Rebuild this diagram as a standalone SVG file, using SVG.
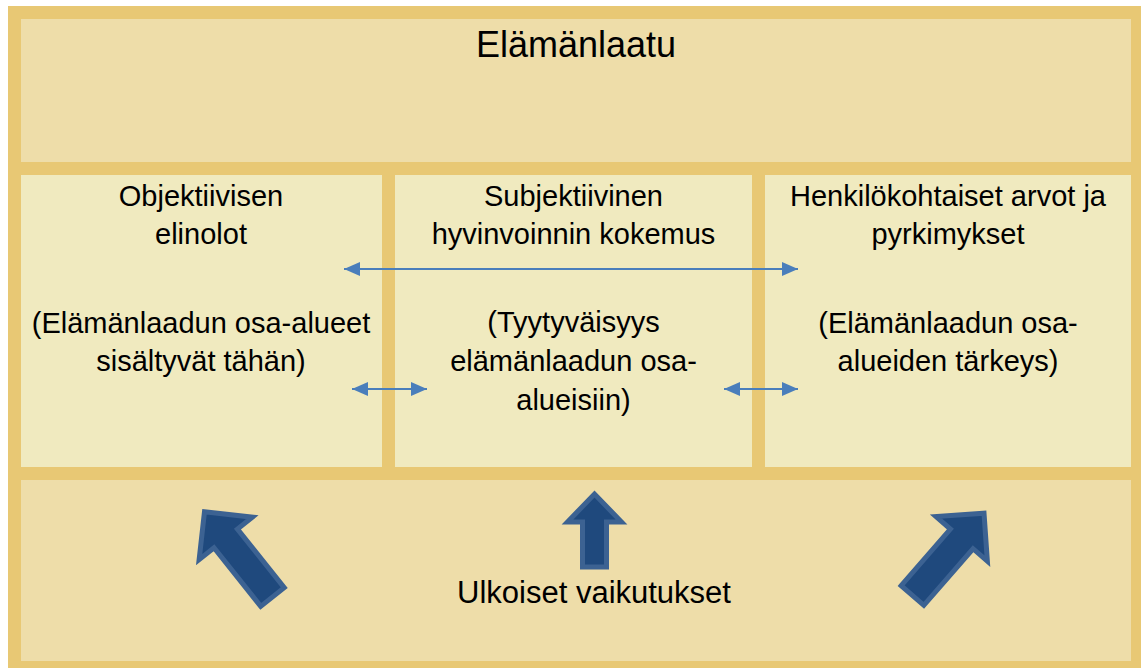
<svg xmlns="http://www.w3.org/2000/svg" width="1141" height="668" viewBox="0 0 1141 668">
  <defs>
    <style>
      .frame { fill: #E8C874; }
      .band { fill: #EEDDA9; }
      .col { fill: #F0EABF; }
      text { font-family: "Liberation Sans", Arial, sans-serif; fill: #000; text-anchor: middle; }
      .title { font-size: 36px; }
      .head { font-size: 29px; }
      .body { font-size: 29px; }
      .foot { font-size: 31px; }
      .link { stroke: #4A7EBB; stroke-width: 2.2; fill: none; marker-start: url(#ah); marker-end: url(#ah); }
      .big { fill: #1F497D; stroke: #3C6292; stroke-width: 5; stroke-linejoin: miter; }
    </style>
    <marker id="ah" markerUnits="userSpaceOnUse" markerWidth="16" markerHeight="14" refX="16" refY="7" orient="auto-start-reverse">
      <path d="M0,0 L16,7 L0,14 Z" fill="#4A7EBB"/>
    </marker>
  </defs>

  <rect class="frame" x="8" y="6" width="1133" height="662"/>

  <g id="elamanlaatu">
    <rect class="band" x="21" y="19" width="1110" height="143"/>
    <text class="title" x="576" y="57">Elämänlaatu</text>
  </g>

  <g id="objektiivisen">
    <rect class="col" x="21" y="175" width="361" height="292"/>
    <text class="head" x="201" y="206">Objektiivisen</text>
    <text class="head" x="201" y="244">elinolot</text>
    <text class="body" x="201" y="333">(Elämänlaadun osa-alueet</text>
    <text class="body" x="201" y="371">sisältyvät tähän)</text>
  </g>

  <g id="subjektiivinen">
    <rect class="col" x="395" y="175" width="357" height="292"/>
    <text class="head" x="573.5" y="206">Subjektiivinen</text>
    <text class="head" x="573.5" y="244">hyvinvoinnin kokemus</text>
    <text class="body" x="573.5" y="332">(Tyytyväisyys</text>
    <text class="body" x="573.5" y="371">elämänlaadun osa-</text>
    <text class="body" x="573.5" y="410">alueisiin)</text>
  </g>

  <g id="henkilokohtaiset">
    <rect class="col" x="765" y="175" width="366" height="292"/>
    <text class="head" x="948" y="206">Henkilökohtaiset arvot ja</text>
    <text class="head" x="948" y="244">pyrkimykset</text>
    <text class="body" x="948" y="333">(Elämänlaadun osa-</text>
    <text class="body" x="948" y="371">alueiden tärkeys)</text>
  </g>

  <g id="ulkoiset">
    <rect class="band" x="21" y="480" width="1110" height="181"/>
    <text class="foot" x="594" y="603">Ulkoiset vaikutukset</text>
  </g>

  <g id="connectors">
    <line class="link" x1="344" y1="269" x2="798" y2="269"/>
    <line class="link" x1="352" y1="389" x2="427" y2="389"/>
    <line class="link" x1="724" y1="389" x2="798" y2="389"/>
    <path class="big" transform="translate(272.5,597) rotate(-38.6)" d="M-15,0 L-15,-75 L-34,-75 L0,-109 L34,-75 L15,-75 L15,0 Z"/>
    <path class="big" transform="translate(594.5,567)" d="M-12,0 L-12,-45 L-27,-45 L0,-73 L27,-45 L12,-45 L12,0 Z"/>
    <path class="big" transform="translate(912.5,595.5) rotate(41)" d="M-15,0 L-15,-75 L-34,-75 L0,-109 L34,-75 L15,-75 L15,0 Z"/>
  </g>
</svg>
